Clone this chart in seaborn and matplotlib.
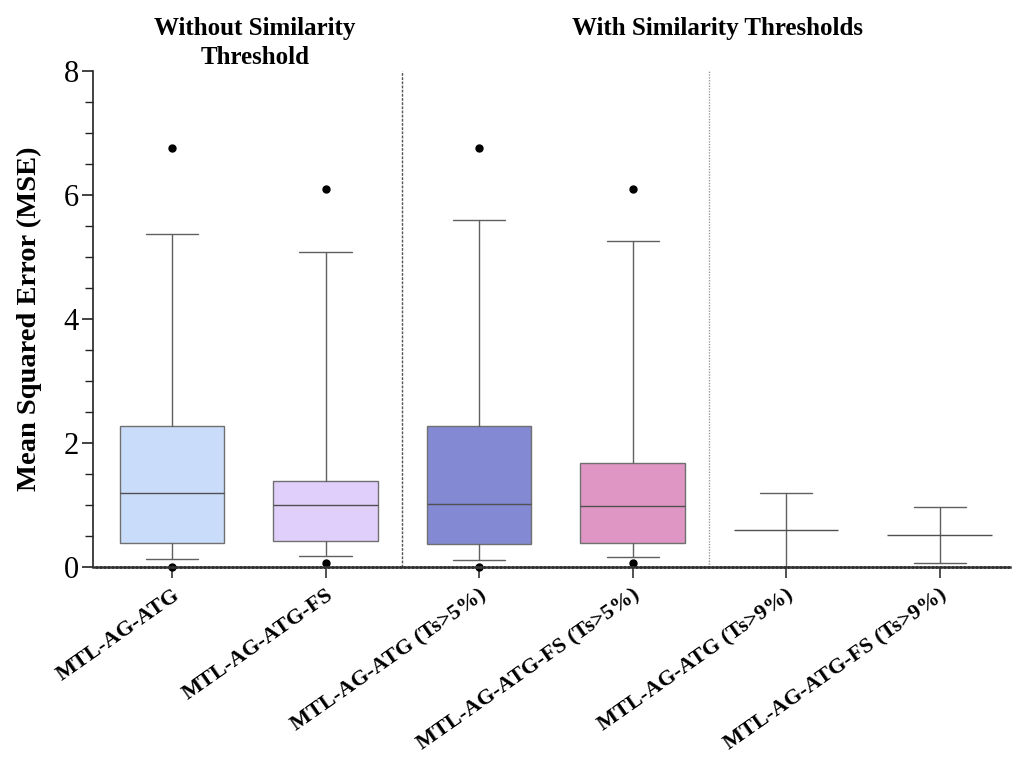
import matplotlib
matplotlib.use("Agg")
import matplotlib.pyplot as plt
import seaborn as sns
import numpy as np

categories = ["MTL-AG-ATG", "MTL-AG-ATG-FS", "MTL-AG-ATG (Ts>5%)",
              "MTL-AG-ATG-FS (Ts>5%)", "MTL-AG-ATG (Ts>9%)", "MTL-AG-ATG-FS (Ts>9%)"]
q1 = [0.39, 0.42, 0.37, 0.39, 0.0, 0.07]
median = [1.19, 1.00, 1.02, 0.99, 0.60, 0.52]
q3 = [2.27, 1.39, 2.27, 1.68, 0.0, 0.07]
whislo = [0.13, 0.18, 0.11, 0.16, 0.0, 0.07]
whishi = [5.37, 5.08, 5.60, 5.26, 1.19, 0.97]
fliers = [[6.76, 0.0], [6.10, 0.07], [6.76, 0.0], [6.10, 0.07], [], []]
box_colors = ["#C9DDFB", "#E0CFFB", "#8389D3", "#E096C4", "#FFFFFF", "#FFFFFF"]

sns.set_style("ticks")
plt.rcParams["font.family"] = ["Liberation Serif", "DejaVu Serif"]
plt.rcParams["text.color"] = "black"
plt.rcParams["axes.labelcolor"] = "black"
plt.rcParams["xtick.color"] = "black"
plt.rcParams["ytick.color"] = "black"

fig = plt.figure(figsize=(10.17, 7.63), dpi=100)
ax = fig.add_axes([0.0914, 0.2569, 0.902, 0.650])

stats = []
for i in range(len(categories)):
    stats.append(dict(label=categories[i], q1=q1[i], med=median[i], q3=q3[i],
                      whislo=whislo[i], whishi=whishi[i], fliers=fliers[i]))

positions = np.arange(len(categories))
bp = ax.bxp(stats, positions=positions, widths=0.68, patch_artist=True,
            showfliers=True,
            boxprops=dict(edgecolor="#707070", linewidth=1.0),
            medianprops=dict(color="#505050", linewidth=1.0),
            whiskerprops=dict(color="#606060", linewidth=1.0),
            capprops=dict(color="#606060", linewidth=1.0),
            flierprops=dict(marker="o", markerfacecolor="black", markeredgecolor="black",
                            markersize=5))
for patch, c in zip(bp["boxes"], box_colors):
    patch.set_facecolor(c)
for i, patch in enumerate(bp["boxes"]):
    if q3[i] - q1[i] <= 0:
        patch.set_visible(False)
for artist_list in bp.values():
    for a in artist_list:
        a.set_clip_on(False)
for cap in bp["caps"]:
    x0, x1 = cap.get_xdata()
    cx = (x0 + x1) / 2
    cap.set_xdata([cx - 0.17, cx + 0.17])

ax.set_xlim(-0.515, 5.46)
ax.set_ylim(0, 8)

# separators
ax.plot([1.5, 1.5], [0, 8], color="#555555", linestyle=(0, (2, 1)), linewidth=1.0)
ax.plot([3.5, 3.5], [0, 8], color="#999999", linestyle=(0, (1, 1)), linewidth=1.0)

ax.spines["top"].set_visible(False)
ax.spines["right"].set_visible(False)
ax.spines["left"].set_color("#222222")
ax.spines["left"].set_linewidth(1.2)
ax.spines["bottom"].set_linestyle((0, (1, 0.6)))
ax.spines["bottom"].set_color("#333333")
ax.spines["bottom"].set_linewidth(1.8)

ax.set_yticks([0, 2, 4, 6, 8])
ax.set_yticks(np.arange(0, 8.01, 0.5), minor=True)
ax.tick_params(axis="y", which="major", length=8, width=1.2, color="#222222",
               labelsize=22, pad=2)
ax.tick_params(axis="y", which="minor", length=6, width=1.0, color="#222222")
ax.tick_params(axis="x", which="major", length=8, width=1.2, color="#333333", pad=5)

ax.set_xticks(positions)
ax.set_xticklabels(categories, rotation=35, ha="right", rotation_mode="anchor",
                   fontsize=16, fontweight="bold")
ax.set_ylabel("Mean Squared Error (MSE)", fontsize=20.5, fontweight="bold", labelpad=16)

ax.text(0.54, 8.69, "Without Similarity", ha="center", va="center",
        fontsize=18, fontweight="bold", clip_on=False)
ax.text(0.54, 8.22, "Threshold", ha="center", va="center",
        fontsize=18, fontweight="bold", clip_on=False)
ax.text(3.55, 8.69, "With Similarity Thresholds", ha="center", va="center",
        fontsize=18, fontweight="bold", clip_on=False)

fig.savefig("out.png", dpi=100)
